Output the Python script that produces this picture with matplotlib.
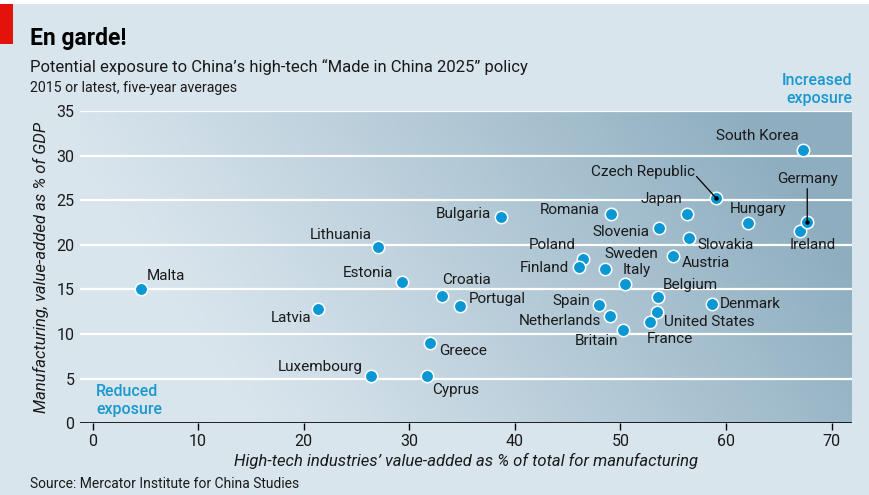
import matplotlib
matplotlib.use('Agg')
import matplotlib.pyplot as plt
import numpy as np
from matplotlib.colors import LinearSegmentedColormap
from matplotlib.patches import Rectangle

plt.rcParams['font.family'] = ['Roboto', 'DejaVu Sans']

# --- data ---
countries = ['Malta', 'Latvia', 'Lithuania', 'Estonia', 'Luxembourg', 'Cyprus',
             'Greece', 'Croatia', 'Portugal', 'Bulgaria', 'Romania', 'Poland',
             'Finland', 'Sweden', 'Italy', 'Spain', 'Netherlands', 'Britain',
             'Slovenia', 'Japan', 'Czech Republic', 'Slovakia', 'Austria',
             'Belgium', 'United States', 'France', 'Denmark', 'Hungary',
             'South Korea', 'Ireland', 'Germany']
hightech_share = [4.6, 21.4, 27.0, 29.3, 26.4, 31.7,
                  32.0, 33.1, 34.8, 38.7, 49.1, 46.5,
                  46.1, 48.5, 50.4, 48.0, 49.0, 50.2,
                  53.7, 56.3, 59.1, 56.5, 55.0,
                  53.6, 53.5, 52.8, 58.7, 62.1,
                  67.3, 67.0, 67.7]
manuf_gdp = [15.1, 12.8, 19.7, 15.8, 5.3, 5.3,
             9.0, 14.3, 13.1, 23.1, 23.5, 18.4,
             17.5, 17.3, 15.6, 13.3, 12.0, 10.5,
             21.9, 23.5, 25.2, 20.8, 18.7,
             14.1, 12.5, 11.4, 13.4, 22.4,
             30.6, 21.5, 22.6]

x_ticks = [0, 10, 20, 30, 40, 50, 60, 70]
y_ticks = [0, 5, 10, 15, 20, 25, 30, 35]

# label placement: offset in pixels from the dot, horizontal alignment
label_pos = {
    'Malta': (6, 13, 'left'), 'Latvia': (-7, -9, 'right'),
    'Lithuania': (-6, 12, 'right'), 'Estonia': (-9, 9, 'right'),
    'Luxembourg': (-9, 9, 'right'), 'Cyprus': (5, -14, 'left'),
    'Greece': (9, -8, 'left'), 'Croatia': (0, 16, 'left'),
    'Portugal': (9, 7, 'left'), 'Bulgaria': (-10, 3, 'right'),
    'Romania': (-11, 4, 'right'), 'Poland': (-8, 14, 'right'),
    'Finland': (-10, -1, 'right'), 'Sweden': (0, 15, 'left'),
    'Italy': (-2, 14, 'left'), 'Spain': (-9, 4, 'right'),
    'Netherlands': (-9, -5, 'right'), 'Britain': (-4, -11, 'right'),
    'Slovenia': (-10, -4, 'right'), 'Japan': (-5, 15, 'right'),
    'Czech Republic': (-21, 26, 'right'), 'Slovakia': (8, -7, 'left'),
    'Austria': (9, -7, 'left'), 'Belgium': (4, 12, 'left'),
    'United States': (7, -10, 'left'), 'France': (-3, -17, 'left'),
    'Denmark': (8, 0, 'left'), 'Hungary': (-18, 14, 'left'),
    'South Korea': (-4, 14, 'right'), 'Ireland': (13, -14, 'center'),
    'Germany': (0, 43, 'center'),
}
leaders = ['Czech Republic', 'Germany']

BG = '#d9e5ed'
BLUE = '#0a98d4'
TXT = '#1a1a1a'

fig = plt.figure(figsize=(8.69, 4.95), dpi=100, facecolor=BG)
W, H = 869, 495

# top white strip and red tag
fig.patches.append(Rectangle((0, 1 - 4 / H), 1, 4 / H, transform=fig.transFigure,
                             facecolor='white', edgecolor='none'))
fig.patches.append(Rectangle((0, 1 - 44 / H), 13 / W, 40 / H, transform=fig.transFigure,
                             facecolor='#e3120b', edgecolor='none'))

ax = fig.add_axes([80 / W, (H - 423.2) / H, 772 / W, 312.2 / H])
ax.set_facecolor(BG)

# background gradient (light lower-left to darker upper-right)
u, v = np.meshgrid(np.linspace(0, 1, 400), np.linspace(0, 1, 200))
t = np.clip(1.1 * u + 0.3 * v - 0.25, 0, 1) ** 1.1
cmap = LinearSegmentedColormap.from_list('bg', [BG, '#8eaec0'])
ax.imshow(t, cmap=cmap, origin='lower', extent=[0, 1, 0, 1],
          transform=ax.transAxes, aspect='auto', zorder=0, vmin=0, vmax=1)

ax.set_xlim(-1.19, 71.94)
ax.set_ylim(0, 35)

for yv in y_ticks[1:]:
    ax.axhline(yv, color='white', lw=1.6, zorder=1)
ax.axhline(0, color='black', lw=1.2, zorder=2)

ax.scatter(hightech_share, manuf_gdp, s=80, color=BLUE, edgecolor='white',
           linewidth=1.1, zorder=3)

for name, xv, yv in zip(countries, hightech_share, manuf_gdp):
    dx, dy, ha = label_pos[name]
    ax.annotate(name, (xv, yv), xytext=(dx, dy), textcoords='offset pixels',
                ha=ha, va='center', fontsize=11, color=TXT, zorder=5)
    if name in leaders:
        if name == 'Germany':
            start = (0, 33)
        else:
            start = (-20, 22)
        ax.annotate('', (xv, yv), xytext=start, textcoords='offset pixels',
                    arrowprops=dict(arrowstyle='-', color='black', lw=0.9,
                                    shrinkA=0, shrinkB=0), zorder=6)
        ax.plot(xv, yv, 'o', color='black', ms=2.2, zorder=6)

for sp in ax.spines.values():
    sp.set_visible(False)
ax.set_xticks(x_ticks)
ax.set_yticks(y_ticks)
ax.tick_params(axis='x', length=5, width=1, color='black', labelsize=11.5,
               labelcolor=TXT, pad=3)
ax.tick_params(axis='y', length=0, labelsize=11.5, labelcolor=TXT, pad=4)

ax.set_xlabel('High-tech industries\u2019 value-added as % of total for manufacturing',
              fontsize=12, style='italic', color=TXT, labelpad=3)
ax.set_ylabel('Manufacturing, value-added as % of GDP', fontsize=12,
              style='italic', color=TXT, labelpad=5)

ax.text(1.0, 1.069, 'Increased\nexposure', transform=ax.transAxes, ha='right',
        va='center', fontsize=11.5, fontweight='medium', color='#1a99cf',
        linespacing=1.2)
ax.text(0.0207, 0.073, 'Reduced\nexposure', transform=ax.transAxes,
        ha='left', va='center', fontsize=11.5, fontweight='medium', color='#1a99cf',
        linespacing=1.2)

fig.text(30 / W, 1 - 38 / H, 'En garde!', fontsize=16.5, fontweight='bold',
         color='black', va='center', ha='left')
fig.text(30 / W, 1 - 67 / H,
         'Potential exposure to China\u2019s high-tech \u201cMade in China 2025\u201d policy',
         fontsize=12, color=TXT, va='center', ha='left')
fig.text(30 / W, 1 - 88 / H, '2015 or latest, five-year averages', fontsize=10.2,
         color=TXT, va='center', ha='left')
fig.text(30 / W, 1 - 484 / H, 'Source: Mercator Institute for China Studies',
         fontsize=10, color=TXT, va='center', ha='left')

fig.savefig('out.png', dpi=100, facecolor=BG)
